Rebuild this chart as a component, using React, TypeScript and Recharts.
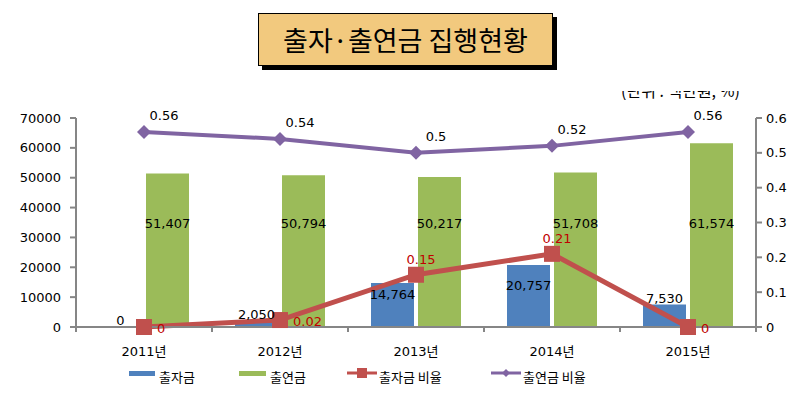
import React from "react";
import {
  ComposedChart,
  Bar,
  Line,
  XAxis,
  YAxis,
  LabelList,
} from "recharts";

// ─── Data ─────────────────────────────────────────────────────────────────────

const years = ["2011년", "2012년", "2013년", "2014년", "2015년"];
const contribution = [0, 2050, 14764, 20757, 7530]; // 출자금 (백만원)
const donation = [51407, 50794, 50217, 51708, 61574]; // 출연금 (백만원)
const contributionRatio = [0, 0.02, 0.15, 0.21, 0]; // 출자금 비율
const donationRatio = [0.56, 0.54, 0.5, 0.52, 0.56]; // 출연금 비율

const leftTicks = [0, 10000, 20000, 30000, 40000, 50000, 60000, 70000];
const rightTicks = [0, 0.1, 0.2, 0.3, 0.4, 0.5, 0.6];

const data = years.map((year, i) => ({
  year,
  contribution: contribution[i],
  donation: donation[i],
  contributionRatio: contributionRatio[i],
  donationRatio: donationRatio[i],
}));

// ─── Layout / style ───────────────────────────────────────────────────────────

const W = 810;
const H = 400;
const MARGIN = { top: 118, right: 10, bottom: 43, left: 10 };
const LEFT_AXIS_W = 66;
const RIGHT_AXIS_W = 44;
const X_AXIS_H = 30;
const PLOT_W = W - MARGIN.left - MARGIN.right - LEFT_AXIS_W - RIGHT_AXIS_W;
const PLOT_H = H - MARGIN.top - MARGIN.bottom - X_AXIS_H;
const BAND = PLOT_W / years.length;
const BAR_SIZE = 43;
const BAR_GAP = 4;
const LEFT_MAX = leftTicks[leftTicks.length - 1];

const AXIS = "#868686";
const BLUE = "#4f81bd";
const GREEN = "#9bbb59";
const RED = "#c0504d";
const PURPLE = "#8064a2";
const LABEL_RED = "#c00000";
const NUM_FONT = "'DejaVu Sans', 'Noto Sans CJK KR', sans-serif";
const KR_FONT = "'Noto Sans CJK KR', 'DejaVu Sans', sans-serif";

const fmt = (v: number) => v.toLocaleString("en-US");

// ─── Custom pieces ────────────────────────────────────────────────────────────

const YearTick = (props: any) => {
  const { x, y, payload, index } = props;
  const last = index === years.length - 1;
  return (
    <g>
      <line x1={x - BAND / 2} y1={y - 5} x2={x - BAND / 2} y2={y} stroke={AXIS} strokeWidth={2} />
      {last && (
        <line x1={x + BAND / 2} y1={y - 5} x2={x + BAND / 2} y2={y} stroke={AXIS} strokeWidth={2} />
      )}
      <text x={x} y={y + 24} textAnchor="middle" fontSize={13} fontFamily={NUM_FONT} fill="#000">
        {payload.value}
      </text>
    </g>
  );
};

// labels for the blue bars, hung on an invisible line so a zero bar still gets its "0"
const BlueLabel = (props: any) => {
  const { x, y, value } = props;
  const h = (value / LEFT_MAX) * PLOT_H;
  const ty = h > 30 ? y + h * 0.5 - 6 : y - 2;
  return (
    <text
      x={x - (BAR_SIZE + BAR_GAP) / 2}
      y={ty}
      textAnchor="middle"
      fontSize={13}
      fontFamily={NUM_FONT}
      fill="#000"
    >
      {fmt(value)}
    </text>
  );
};

const RedLabel = (props: any) => {
  const { x, y, value } = props;
  const side = value < 0.1;
  return (
    <text
      x={side ? x + 13 : x + 5}
      y={side ? y + 6 : y - 11}
      textAnchor={side ? "start" : "middle"}
      fontSize={13}
      fontFamily={NUM_FONT}
      fill={LABEL_RED}
    >
      {value}
    </text>
  );
};

const PurpleLabel = (props: any) => {
  const { x, y, value } = props;
  return (
    <text x={x + 20} y={y - 12} textAnchor="middle" fontSize={13} fontFamily={NUM_FONT} fill="#000">
      {value}
    </text>
  );
};

const SquareDot = (props: any) => {
  const { cx, cy } = props;
  if (cx == null || cy == null) return null;
  return <rect x={cx - 8} y={cy - 8} width={16} height={16} fill={RED} />;
};

const DiamondDot = (props: any) => {
  const { cx, cy } = props;
  if (cx == null || cy == null) return null;
  return <path d={`M${cx},${cy - 7} L${cx + 7},${cy} L${cx},${cy + 7} L${cx - 7},${cy} Z`} fill={PURPLE} />;
};

const Legend = () => (
  <svg width={W} height={30} style={{ position: "absolute", left: 0, top: 362 }}>
    <g fontFamily={KR_FONT} fontSize={13} fill="#000">
      <rect x={129} y={9} width={26} height={5} fill={BLUE} />
      <text x={159} y={20}>출자금</text>
      <rect x={239} y={9} width={27} height={5} fill={GREEN} />
      <text x={270} y={20}>출연금</text>
      <line x1={347} y1={11} x2={377} y2={11} stroke={RED} strokeWidth={3} />
      <rect x={357} y={6} width={10} height={10} fill={RED} />
      <text x={379} y={20}>출자금 비율</text>
      <line x1={491} y1={11} x2={521} y2={11} stroke={PURPLE} strokeWidth={3} />
      <path d="M506,7 L510,11 L506,15 L502,11 Z" fill={PURPLE} />
      <text x={523} y={20}>출연금 비율</text>
    </g>
  </svg>
);

// ─── Component ────────────────────────────────────────────────────────────────

export default function App() {
  return (
    <div style={{ position: "absolute", left: 0, top: 0, width: W, height: H, background: "#fff" }}>
      {/* Title box */}
      <div
        style={{
          position: "absolute",
          left: 258,
          top: 13,
          width: 293,
          height: 51,
          background: "#f2c97e",
          border: "1px solid #000",
          boxShadow: "4px 4px 0 #000",
          display: "flex",
          alignItems: "center",
          justifyContent: "center",
          fontFamily: KR_FONT,
          fontSize: 27,
          color: "#000",
        }}
      >
        출자·출연금 집행현황
      </div>

      {/* Unit note (clipped at the top like the source) */}
      <div
        style={{
          position: "absolute",
          left: 621,
          top: 91,
          width: 140,
          height: 9,
          overflow: "hidden",
        }}
      >
        <div style={{ marginTop: -13, fontFamily: KR_FONT, fontSize: 16, color: "#000", whiteSpace: "nowrap" }}>
          (단위 : 백만원, %)
        </div>
      </div>

      <ComposedChart
        width={W}
        height={H}
        data={data}
        margin={MARGIN}
        barSize={BAR_SIZE}
        barGap={BAR_GAP}
        style={{ position: "absolute", left: 0, top: 0 }}
      >
        <XAxis
          dataKey="year"
          axisLine={{ stroke: AXIS, strokeWidth: 2 }}
          tickLine={false}
          tickSize={5}
          tickMargin={0}
          tick={<YearTick />}
          interval={0}
          height={X_AXIS_H}
        />
        <YAxis
          yAxisId="left"
          domain={[0, LEFT_MAX]}
          ticks={leftTicks}
          width={LEFT_AXIS_W}
          axisLine={{ stroke: AXIS, strokeWidth: 2 }}
          tickLine={{ stroke: AXIS, strokeWidth: 2 }}
          tickSize={6}
          tickMargin={9}
          tick={{ fontSize: 13, fill: "#000", fontFamily: NUM_FONT }}
        />
        <YAxis
          yAxisId="right"
          orientation="right"
          domain={[0, 0.6]}
          ticks={rightTicks}
          width={RIGHT_AXIS_W}
          axisLine={{ stroke: AXIS, strokeWidth: 2 }}
          tickLine={{ stroke: AXIS, strokeWidth: 2 }}
          tickSize={6}
          tickMargin={4}
          tick={{ fontSize: 13, fill: "#000", fontFamily: NUM_FONT }}
        />

        <Bar yAxisId="left" dataKey="contribution" fill={BLUE} isAnimationActive={false} />
        <Bar yAxisId="left" dataKey="donation" fill={GREEN} isAnimationActive={false}>
          <LabelList
            dataKey="donation"
            position="insideBottom"
            offset={99}
            formatter={(v: any) => fmt(v)}
            style={{ fontSize: 13, fill: "#000", fontFamily: NUM_FONT }}
          />
        </Bar>

        {/* invisible carrier for the 출자금 value labels */}
        <Line
          yAxisId="left"
          type="linear"
          dataKey="contribution"
          stroke="none"
          dot={false}
          activeDot={false}
          legendType="none"
          isAnimationActive={false}
        >
          <LabelList dataKey="contribution" content={<BlueLabel />} />
        </Line>

        <Line
          yAxisId="right"
          type="linear"
          dataKey="donationRatio"
          stroke={PURPLE}
          strokeWidth={4}
          dot={<DiamondDot />}
          activeDot={false}
          isAnimationActive={false}
        >
          <LabelList dataKey="donationRatio" content={<PurpleLabel />} />
        </Line>
        <Line
          yAxisId="right"
          type="linear"
          dataKey="contributionRatio"
          stroke={RED}
          strokeWidth={5}
          dot={<SquareDot />}
          activeDot={false}
          isAnimationActive={false}
        >
          <LabelList dataKey="contributionRatio" content={<RedLabel />} />
        </Line>
      </ComposedChart>

      <Legend />
    </div>
  );
}
